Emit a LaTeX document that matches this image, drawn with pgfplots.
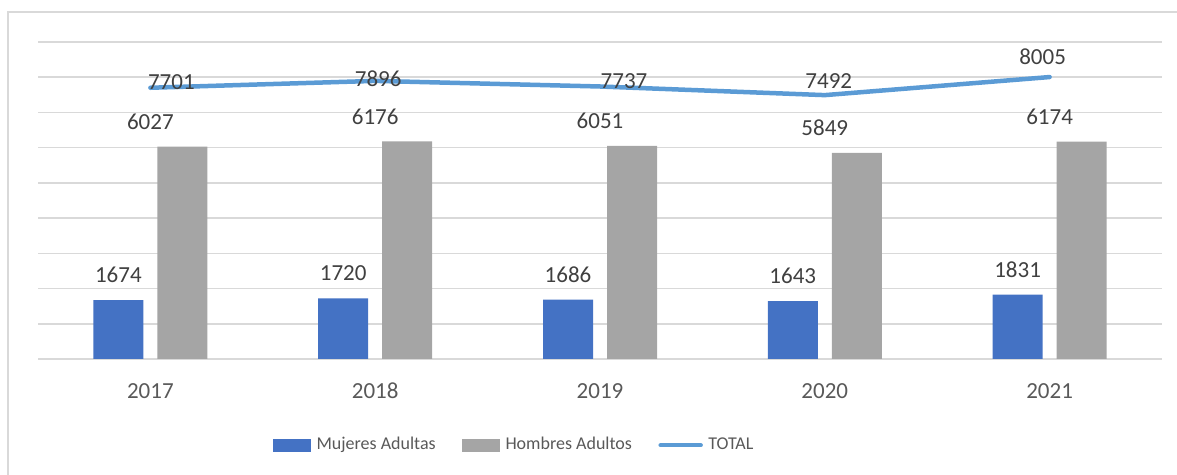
\documentclass[border=0pt]{standalone}
\usepackage{fontspec}
\setmainfont{Carlito}
\usepackage{pgfplots}
\pgfplotsset{compat=1.18}

\definecolor{mujeres}{HTML}{4472C4}
\definecolor{hombres}{HTML}{A5A5A5}
\definecolor{total}{HTML}{5B9BD5}
\definecolor{gridc}{HTML}{D9D9D9}
\definecolor{txt}{HTML}{595959}
\definecolor{lab}{HTML}{404040}

% TOTAL: x, value, label offsets (pt)
\pgfplotstableread{
x y dx dy
0 7701 10.5 3
1 7896 1.5 1
2 7737 12 2.75
3 7492 2 7
4 8005 -3.5 10
}\totaldata

\begin{document}
\begin{tikzpicture}
\path[use as bounding box] (-19pt,-58pt) rectangle (569.5pt,179.5pt);
\draw[gridc, line width=0.75pt] (-15pt,-60pt) -- (-15pt,173.5pt) -- (572pt,173.5pt);
\begin{axis}[
    at={(0,0)}, anchor=south west,
    scale only axis,
    width=562pt, height=158.5pt,
    xmin=-0.5, xmax=4.5,
    ymin=0, ymax=9000,
    xtick={0,1,2,3,4},
    xticklabels={2017,2018,2019,2020,2021},
    ytick={0,1000,...,9000},
    yticklabels={},
    ymajorgrids,
    grid style={gridc, line width=0.75pt},
    axis line style={draw=none},
    major tick length=0pt,
    xticklabel style={anchor=center, yshift=-16pt, font=\fontsize{11.5}{13}\selectfont, text=txt},
    /pgf/number format/.cd, 1000 sep={}, assume math mode=true, /pgfplots/.cd,
    nodes near coords style={font=\fontsize{11.5}{13}\selectfont, text=lab, anchor=center},
    legend columns=3,
    legend style={
        at={(0.4239,-0.272)}, anchor=center,
        draw=none, fill=none,
        font=\fontsize{9}{11}\selectfont, text=txt,
        nodes={inner sep=1.2pt},
        /tikz/every odd column/.append style={column sep=1.5pt},
        /tikz/every even column/.append style={column sep=12pt},
    },
]
\addplot[ybar, bar width=25pt, bar shift=-16pt, fill=mujeres, draw=none,
    nodes near coords, nodes near coords style={xshift=-16pt, yshift=12.5pt},
    legend image code/.code={\fill[mujeres] (0pt,-3.25pt) rectangle (19pt,3.25pt);}]
    coordinates {(0,1674) (1,1720) (2,1686) (3,1643) (4,1831)};
\addlegendentry{Mujeres Adultas}

\addplot[ybar, bar width=25pt, bar shift=16pt, fill=hombres, draw=none,
    nodes near coords, nodes near coords style={yshift=12.5pt},
    legend image code/.code={\fill[hombres] (0pt,-3.25pt) rectangle (19pt,3.25pt);}]
    coordinates {(0,6027) (1,6176) (2,6051) (3,5849) (4,6174)};
\addlegendentry{Hombres Adultos}

\addplot[sharp plot, color=total, line width=2.25pt, line cap=round, line join=round, mark=none,
    visualization depends on={\thisrow{dx} \as \dx},
    visualization depends on={\thisrow{dy} \as \dy},
    nodes near coords, nodes near coords style={xshift=\dx pt, yshift=\dy pt},
    legend image code/.code={\draw[total, line width=2.25pt, line cap=round] (0pt,0pt) -- (20pt,0pt);}]
    table[x=x, y=y] {\totaldata};
\addlegendentry{TOTAL}
\end{axis}
\end{tikzpicture}
\end{document}
